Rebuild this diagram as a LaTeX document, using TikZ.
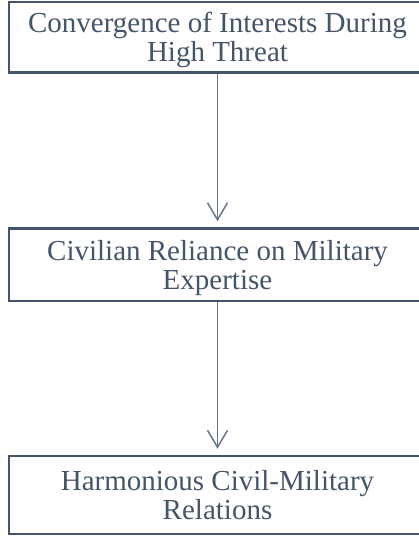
\documentclass[tikz,border=0pt]{standalone}
\usepackage{fontspec}
\setmainfont{Liberation Serif}
\newfontfamily\tnr{Liberation Serif}
\usetikzlibrary{arrows.meta}
\definecolor{boxc}{HTML}{44546A}
\definecolor{arrc}{HTML}{66768A}
\begin{document}
\begin{tikzpicture}[x=1pt,y=1pt,
  box/.style={draw=boxc, line width=2.5pt, minimum width=417pt, minimum height=#1, inner sep=0pt},
  lbl/.style={text=boxc, font=\tnr\fontsize{29}{29}\selectfont, align=center, inner sep=0pt},
  conn/.style={draw=arrc, line width=1.5pt, -{Straight Barb[length=17pt,width=20pt,line width=1.5pt]}, shorten >=6pt}]
\useasboundingbox (0,0) rectangle (419,-537);
\clip (0,0) rectangle (419,-537);
\node[box=70.5pt] (b1) at (217.5,-37.25) {};
\node[box=72.5pt] (b2) at (217.5,-264.75) {};
\node[box=78pt] (b3) at (217.5,-495) {};
\node[lbl] (t1) at (217.5,-40) {Convergence of Interests During\\High Threat};
\node[lbl] (t2) at (217.5,-267.75) {Civilian Reliance on Military\\Expertise};
\node[lbl] (t3) at (217.5,-494.6) {Harmonious Civil-Military\\Relations};
\draw[conn] (b1.south) -- (b2.north);
\draw[conn] (b2.south) -- (b3.north);
\end{tikzpicture}
\end{document}
